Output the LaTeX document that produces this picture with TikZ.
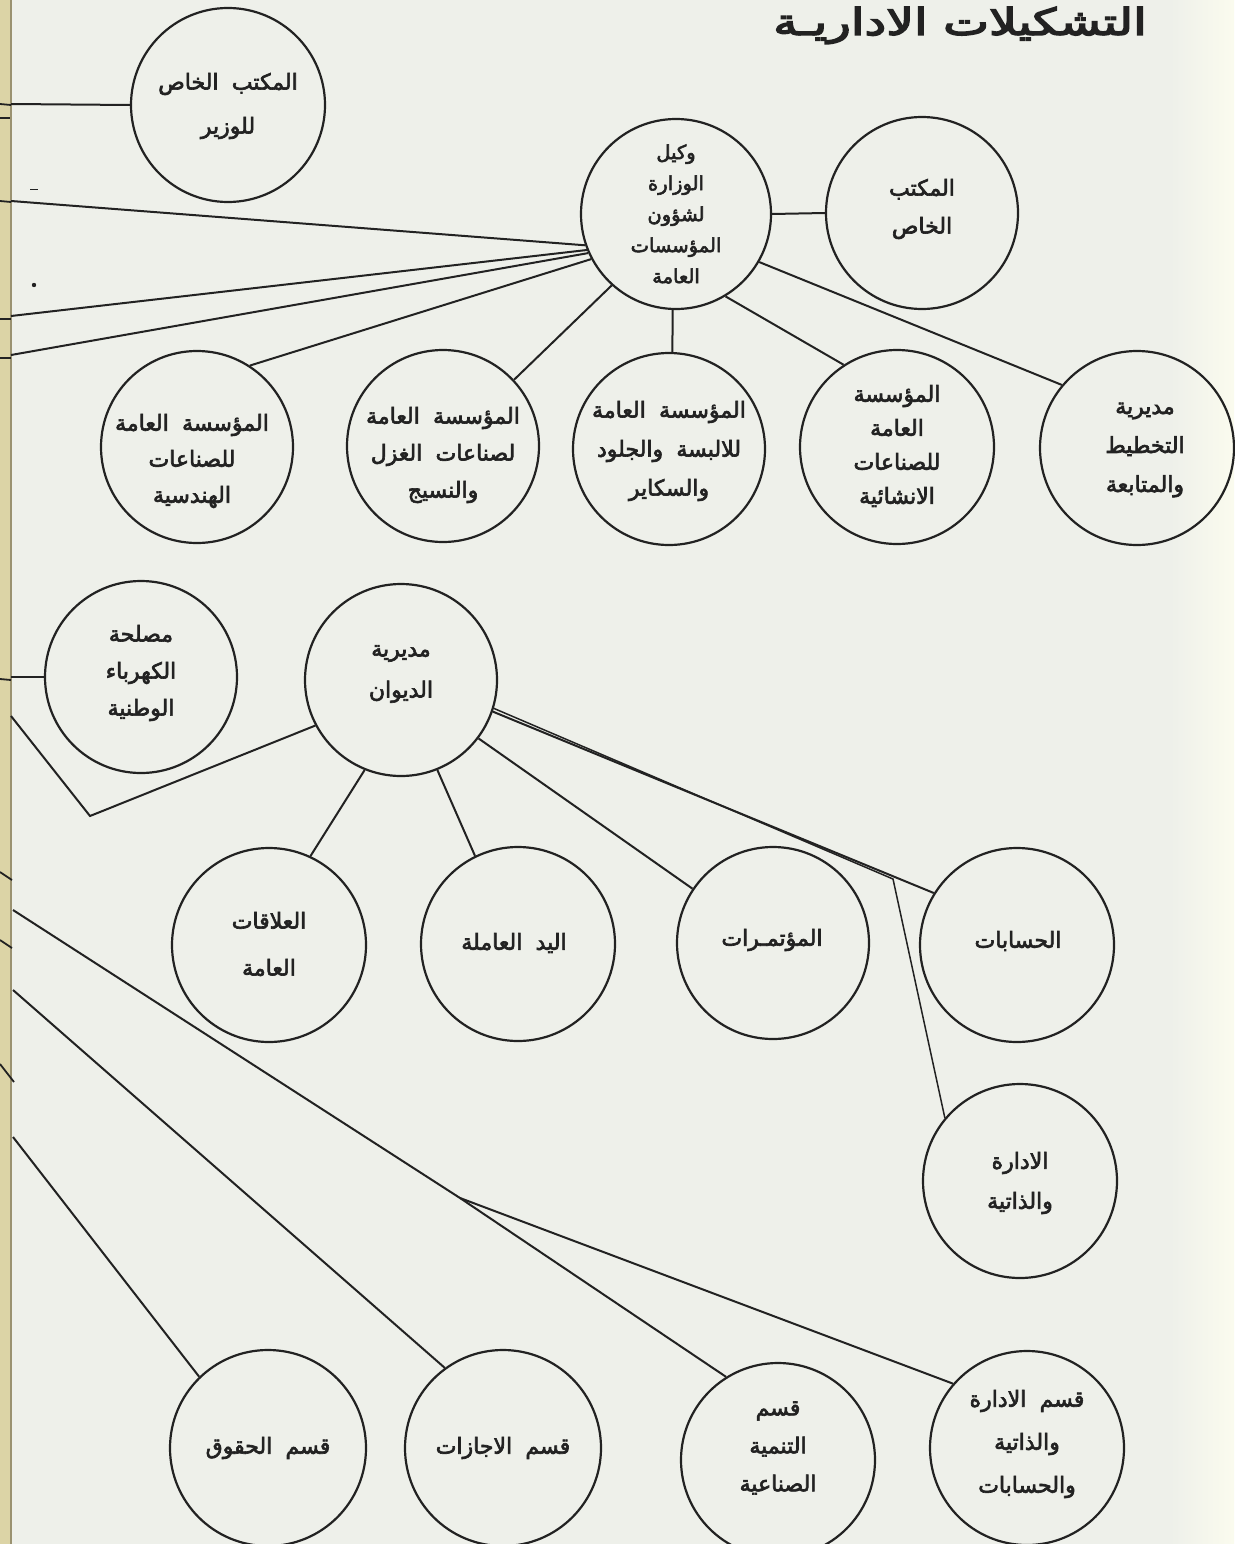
\documentclass[tikz,border=0pt]{standalone}
\usepackage{fontspec}
\newfontfamily\arabicfont[Script=Arabic,FakeBold=2.9,WordSpace=1.9]{DejaVu Sans}
\newfontfamily\titlefont[Script=Arabic,FakeBold=3.6]{DejaVu Sans}
\TeXXeTstate=1
\newcommand{\artxt}[1]{\beginR #1\endR}
\definecolor{bg}{HTML}{EEF0EA}
\definecolor{ink}{HTML}{222222}
\definecolor{strip}{HTML}{DCD4A6}
\definecolor{bindline}{HTML}{9A9270}
\tikzset{
  bub/.style={circle, draw=ink, line width=2.2pt, inner sep=0pt, minimum size=#1},
  lbl/.style={font=\arabicfont\fontsize{22}{#1}\selectfont, align=center, text=ink, inner sep=0pt},
  lbl/.default=38,
  conn/.style={draw=ink, line width=2pt},
  tick/.style={draw=ink, line width=1.8pt}
}
\begin{document}
\begin{tikzpicture}[x=1pt,y=-1pt]
\useasboundingbox (0,0) rectangle (1234,1544);
\fill[bg] (0,0) rectangle (1234,1544);
\shade[left color=bg, right color=bg!85!yellow!30] (1170,0) rectangle (1234,1544);
\fill[strip] (0,0) rectangle (11,1544);
\draw[bindline, line width=1.5pt] (11,0) -- (11,1544);

% title
\node[font=\titlefont\fontsize{37}{40}\selectfont, text=ink, inner sep=0pt, anchor=base] (title) at (960,35) {\scalebox{1.32}[1]{\artxt{التشكيلات الاداريـة}}};

% circles
\node[bub=194] (c1) at (228,105) {};
\node[bub=190] (c2) at (676,214) {};
\node[bub=192] (c3) at (922,213) {};
\node[bub=192] (c4) at (197,447) {};
\node[bub=192] (c5) at (443,446) {};
\node[bub=192] (c6) at (669,449) {};
\node[bub=194] (c7) at (897,447) {};
\node[bub=194] (c8) at (1137,448) {};
\node[bub=192] (c9) at (141,677) {};
\node[bub=192] (c10) at (401,680) {};
\node[bub=194] (c11) at (269,945) {};
\node[bub=194] (c12) at (518,944) {};
\node[bub=192] (c13) at (773,943) {};
\node[bub=194] (c14) at (1017,945) {};
\node[bub=194] (c15) at (1020,1181) {};
\node[bub=196] (c16) at (268,1448) {};
\node[bub=196] (c17) at (503,1448) {};
\node[bub=194] (c18) at (778,1460) {};
\node[bub=194] (c19) at (1027,1448) {};

% labels
\node[lbl=44] (t1) at (228,106) {\artxt{المكتب الخاص}\\\artxt{للوزير}};
\node[lbl=31, font=\arabicfont\fontsize{19.5}{31}\selectfont] (t2) at (676,214) {\artxt{وكيل}\\\artxt{الوزارة}\\\artxt{لشؤون}\\\artxt{المؤسسات}\\\artxt{العامة}};
\node[lbl=38] (t3) at (922,209) {\artxt{المكتب}\\\artxt{الخاص}};
\node[lbl=36] (t4) at (192,461) {\artxt{المؤسسة العامة}\\\artxt{للصناعات}\\\artxt{الهندسية}};
\node[lbl=37] (t5) at (443,455) {\artxt{المؤسسة العامة}\\\artxt{لصناعات الغزل}\\\artxt{والنسيج}};
\node[lbl=39] (t6) at (669,451) {\artxt{المؤسسة العامة}\\\artxt{للالبسة والجلود}\\\artxt{والسكاير}};
\node[lbl=34] (t7) at (897,446) {\artxt{المؤسسة}\\\artxt{العامة}\\\artxt{للصناعات}\\\artxt{الانشائية}};
\node[lbl=39] (t8) at (1145,450) {\artxt{مديرية}\\\artxt{التخطيط}\\\artxt{والمتابعة}};
\node[lbl=37] (t9) at (141,673) {\artxt{مصلحة}\\\artxt{الكهرباء}\\\artxt{الوطنية}};
\node[lbl=41] (t10) at (401,674) {\artxt{مديرية}\\\artxt{الديوان}};
\node[lbl=47] (t11) at (269,944) {\artxt{العلاقات}\\\artxt{العامة}};
\node[lbl] (t12) at (514,943) {\artxt{اليد العاملة}};
\node[lbl] (t13) at (772,940) {\artxt{المؤتمـرات}};
\node[lbl] (t14) at (1018,941) {\artxt{الحسابات}};
\node[lbl=40] (t15) at (1020,1183) {\artxt{الادارة}\\\artxt{والذاتية}};
\node[lbl] (t16) at (268,1448) {\artxt{قسم الحقوق}};
\node[lbl] (t17) at (503,1448) {\artxt{قسم الاجازات}};
\node[lbl=38] (t18) at (778,1448) {\artxt{قسم}\\\artxt{التنمية}\\\artxt{الصناعية}};
\node[lbl=43] (t19) at (1027,1444) {\artxt{قسم الادارة}\\\artxt{والذاتية}\\\artxt{والحسابات}};

% free ends on the left
\coordinate (e1) at (11,104);
\coordinate (e2) at (11,201);
\coordinate (e3) at (11,316);
\coordinate (e4) at (11,355);
\coordinate (e5) at (11,677);
\coordinate (e6) at (11,716);
\coordinate (k6) at (90,816);
\coordinate (e7) at (13,910);
\coordinate (j7) at (460,1198);
\coordinate (e8) at (13,990);
\coordinate (e9) at (13,1137);
\coordinate (br) at (893,879);

% connectors
\draw[conn] (e1) -- (c1.180);
\draw[conn] (e2) -- (c2.199);
\draw[conn] (e3) -- (c2.202);
\draw[conn] (e4) -- (c2.204);
\draw[conn] (c4.57) -- (c2.208);
\draw[conn] (c2.228) -- (c5.43);
\draw[conn] (c2.268) -- (c6.88);
\draw[conn] (c2.301) -- (c7.123);
\draw[conn] (c2.330) -- (c8.140);
\draw[conn] (c2.0) -- (c3.180);

\draw[conn] (e5) -- (c9.180);
\draw[conn] (e6) -- (k6) -- (c10.208);
\draw[conn] (c10.248) -- (c11.65);
\draw[conn] (c10.292) -- (c12.116);
\draw[conn] (c10.323) -- (c13.146);
\draw[conn] (c10.341) -- (c14.148);
\draw[conn, line width=1.5pt] (c10.343) -- (br) -- (c15.140);

\draw[conn] (e7) -- (j7) -- (c18.122);
\draw[conn] (j7) -- (c19.139);
\draw[conn] (e8) -- (c17.126);
\draw[conn] (e9) -- (c16.134);

% small marks in the binding strip and near it
\draw[tick] (0,104) -- (11,105);
\draw[tick] (0,118) -- (10,118);
\draw[tick] (0,201) -- (11,202);
\draw[tick] (0,319) -- (11,319);
\draw[tick] (0,358) -- (11,358);
\draw[tick] (0,679) -- (11,680);
\draw[tick] (0,872) -- (12,880);
\draw[tick] (0,940) -- (12,948);
\draw[tick] (0,1064) -- (14,1082);
\draw[ink, line width=1pt] (30,189) -- (38,189);
\fill[ink] (34,285) circle (2.2);
\end{tikzpicture}
\end{document}
